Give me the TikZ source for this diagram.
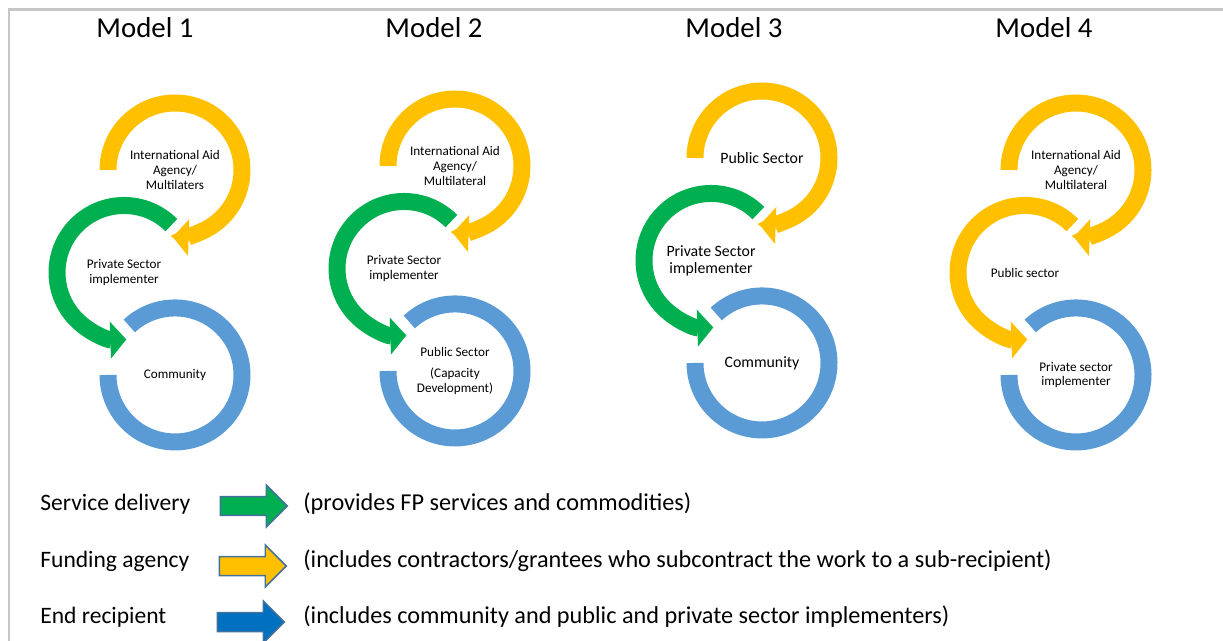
\documentclass[tikz,border=0pt]{standalone}
\usepackage{fontspec}
\setmainfont{Carlito}
\usepackage{tikz}
\usetikzlibrary{arrows.meta,shapes.arrows,positioning}

\definecolor{ringyellow}{HTML}{FFC000}
\definecolor{ringgreen}{HTML}{00B050}
\definecolor{ringblue}{HTML}{5B9BD5}
\definecolor{legblue}{HTML}{0070C0}
\definecolor{arrowedge}{HTML}{41719C}
\definecolor{framegrey}{HTML}{C6C6C6}

\begin{document}
\begin{tikzpicture}[x=0.02cm, y=0.02cm, node distance=2.05cm and 1.02cm,
    every node/.style={font=\fontsize{7.5}{8.3}\selectfont, align=center, inner sep=0pt},
    ring/.style={line width=0.34cm},
    ringtip/.style={-{Triangle[length=0.32cm, width=0.72cm]}},
    bigtext/.style={font=\fontsize{9}{9.8}\selectfont},
    modeltitle/.style={font=\fontsize{16.4}{19}\selectfont},
    legtext/.style={font=\fontsize{13.4}{16}\selectfont, anchor=base west},
    legnote/.style={font=\fontsize{13.8}{16}\selectfont, anchor=base west},
    legarrow/.style={single arrow, draw=arrowedge, line width=0.03cm, minimum height=1.34cm,
      inner xsep=0pt, inner ysep=0.175cm, single arrow head extend=0.23cm}]
  \useasboundingbox (0,0) rectangle (1223,-641);
  \draw[framegrey, line width=0.06cm] (1223,-10) -- (9,-10) -- (9,-641);

  % titles
  \node[modeltitle] (t1) at (145,-28) {Model 1};
  \node[modeltitle] (t2) at (434,-28) {Model 2};
  \node[modeltitle] (t3) at (734,-28) {Model 3};
  \node[modeltitle] (t4) at (1044,-28) {Model 4};

  % model 1
  \node (m1top) at (175,-170) {International Aid\\Agency/\\Multilaters};
  \node[on grid, below left=of m1top] (m1mid) {Private Sector\\implementer};
  \node[on grid, below right=of m1mid] (m1bot) {Community};
  \draw[ring, ringblue] ([shift={(133:67)}]m1bot.center) arc[start angle=133, end angle=-180, radius=67];
  \draw[ring, ringgreen, ringtip] ([shift={(45:67)}]m1mid.center) arc[start angle=45, end angle=272, radius=67];
  \draw[ring, ringyellow, ringtip] ([shift={(180:67)}]m1top.center) arc[start angle=180, end angle=-92, radius=67];

  % model 2
  \node (m2top) at (455,-166) {International Aid\\Agency/\\Multilateral};
  \node[on grid, below left=of m2top] (m2mid) {Private Sector\\implementer};
  \node[on grid, below right=of m2mid] (m2bot) {Public Sector\\[3.5pt](Capacity\\Development)};
  \draw[ring, ringblue] ([shift={(133:67)}]m2bot.center) arc[start angle=133, end angle=-180, radius=67];
  \draw[ring, ringgreen, ringtip] ([shift={(45:67)}]m2mid.center) arc[start angle=45, end angle=272, radius=67];
  \draw[ring, ringyellow, ringtip] ([shift={(180:67)}]m2top.center) arc[start angle=180, end angle=-92, radius=67];

  % model 3
  \node[bigtext] (m3top) at (762,-158) {Public Sector};
  \node[bigtext, on grid, below left=of m3top] (m3mid) {Private Sector\\implementer};
  \node[bigtext, on grid, below right=of m3mid] (m3bot) {Community};
  \draw[ring, ringblue] ([shift={(133:67)}]m3bot.center) arc[start angle=133, end angle=-180, radius=67];
  \draw[ring, ringgreen, ringtip] ([shift={(45:67)}]m3mid.center) arc[start angle=45, end angle=272, radius=67];
  \draw[ring, ringyellow, ringtip] ([shift={(180:67)}]m3top.center) arc[start angle=180, end angle=-92, radius=67];

  % model 4
  \node (m4top) at (1076,-170) {International Aid\\Agency/\\Multilateral};
  \node[on grid, below left=of m4top] (m4mid) {Public sector};
  \node[on grid, below right=of m4mid] (m4bot) {Private sector\\implementer};
  \draw[ring, ringblue] ([shift={(133:67)}]m4bot.center) arc[start angle=133, end angle=-180, radius=67];
  \draw[ring, ringyellow, ringtip] ([shift={(45:67)}]m4mid.center) arc[start angle=45, end angle=272, radius=67];
  \draw[ring, ringyellow, ringtip] ([shift={(180:67)}]m4top.center) arc[start angle=180, end angle=-92, radius=67];

  % legend
  \node[legtext] (svc) at (40,-510) {Service delivery};
  \node[legarrow, fill=ringgreen] (svcarrow) at (249,-506) {};
  \node[legnote] (svcnote) at (303,-510) {(provides FP services and commodities)};
  \node[legtext] (fund) at (40,-567) {Funding agency};
  \node[legarrow, fill=ringyellow] (fundarrow) at (248,-566) {};
  \node[legnote] (fundnote) at (303,-567) {(includes contractors/grantees who subcontract the work to a sub-recipient)};
  \node[legtext] (end) at (40,-623) {End recipient};
  \node[legarrow, fill=legblue] (endarrow) at (246,-622) {};
  \node[legnote] (endnote) at (303,-623) {(includes community and public and private sector implementers)};
\end{tikzpicture}
\end{document}
